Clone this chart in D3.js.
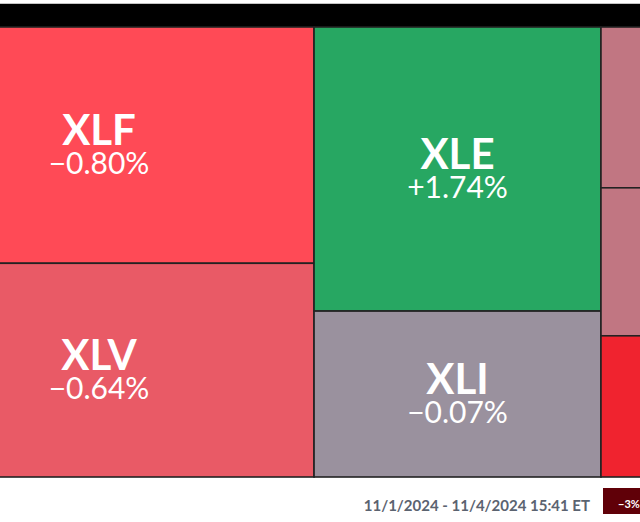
<!DOCTYPE html>
<html>
<head>
<meta charset="utf-8">
<script src="https://cdn.jsdelivr.net/npm/d3@7/dist/d3.min.js"></script>
<style>
  html, body { margin: 0; padding: 0; background: #fff; overflow: hidden; }
  svg { display: block; font-family: Lato, "Open Sans", sans-serif; }
</style>
</head>
<body>
<svg id="chart" width="640" height="522"></svg>
<script>
// ---- data ----
const tickers  = ["XLF", "XLV", "XLE", "XLI", "XLB", "XLU", "XLRE"];
const changes  = [-0.80, -0.64, 1.74, -0.07, -0.35, -0.35, -1.30];
const weights  = [101.6, 91.9, 81.5, 47.6, 40.2, 37.0, 35.3];
const columnOf = [0, 0, 1, 1, 2, 2, 2];
const legendTicks = [-3, -2, -1, 0, 1, 2, 3];
const dateLabel = "11/1/2024 - 11/4/2024 15:41 ET";

// ---- layout ----
const VIEW_W = 640;
const svg = d3.select("#chart");
const mapLeft = -116, mapTop = 27, mapW = 967, mapH = 450;

const color = d3.scaleLinear()
  .domain([-3, -1.3, -0.8, 0, 2, 3])
  .range(["#600008", "#f0232f", "#ff4a56", "#9098a5", "#17a958", "#0b7a3e"])
  .clamp(true);

const cols = d3.groups(tickers.map((t, i) => ({ name: t, change: changes[i], value: weights[i], col: columnOf[i] })), d => d.col)
  .map(([k, items]) => ({ name: "col" + k, children: items }));

const root = d3.hierarchy({ name: "root", children: cols })
  .sum(d => d.value || 0);

d3.treemap().tile(d3.treemapSliceDice).size([mapW, mapH]).round(false)(root);

// header bar
svg.append("rect").attr("x", 0).attr("y", 3).attr("width", VIEW_W).attr("height", 24).attr("fill", "#000");
svg.append("line").attr("x1", 0).attr("x2", VIEW_W).attr("y1", 3.5).attr("y2", 3.5).attr("stroke", "#c4c4c4").attr("stroke-width", 1);

const g = svg.append("g").attr("transform", `translate(${mapLeft},${mapTop})`);

const leaves = g.selectAll("g.cell").data(root.leaves()).join("g").attr("class", "cell");

leaves.append("rect")
  .attr("x", d => d.x0).attr("y", d => d.y0)
  .attr("width", d => d.x1 - d.x0).attr("height", d => d.y1 - d.y0)
  .attr("fill", d => color(d.data.change))
  .attr("stroke", "#222")
  .attr("stroke-width", 1.6);

const fmt = v => (v > 0 ? "+" : "\u2212") + Math.abs(v).toFixed(2) + "%";

// labels only for cells whose centre lies inside the visible window
const labelled = leaves.filter(d => mapLeft + (d.x0 + d.x1) / 2 < VIEW_W);

labelled.append("text")
  .attr("x", d => (d.x0 + d.x1) / 2)
  .attr("y", d => (d.y0 + d.y1) / 2)
  .attr("text-anchor", "middle")
  .attr("fill", "#fff")
  .attr("font-weight", 700)
  .attr("font-size", 42)
  .text(d => d.data.name);

labelled.append("text")
  .attr("x", d => (d.x0 + d.x1) / 2)
  .attr("y", d => (d.y0 + d.y1) / 2 + 29)
  .attr("text-anchor", "middle")
  .attr("fill", "#fff")
  .attr("font-weight", 400)
  .attr("font-size", 30)
  .text(d => fmt(d.data.change));

// bottom date label
svg.append("text")
  .attr("x", 590).attr("y", 511)
  .attr("text-anchor", "end")
  .attr("fill", "#5b6370")
  .attr("font-weight", 700)
  .attr("font-size", 15)
  .text(dateLabel);

// legend
const boxW = 52;
const lx = d3.scaleBand().domain(legendTicks).range([603, 603 + boxW * legendTicks.length]);
const lg = svg.append("g").selectAll("g").data(legendTicks).join("g");
lg.append("rect")
  .attr("x", d => lx(d)).attr("y", 488)
  .attr("width", lx.bandwidth()).attr("height", 26)
  .attr("fill", d => color(d));
lg.filter(d => lx(d) < VIEW_W).append("text")
  .attr("x", d => lx(d) + lx.bandwidth() / 2).attr("y", 508)
  .attr("text-anchor", "middle")
  .attr("fill", "#fff")
  .attr("font-weight", 700)
  .attr("font-size", 11)
  .text(d => (d > 0 ? "+" : d < 0 ? "\u2212" : "") + Math.abs(d) + "%");
</script>
</body>
</html>
